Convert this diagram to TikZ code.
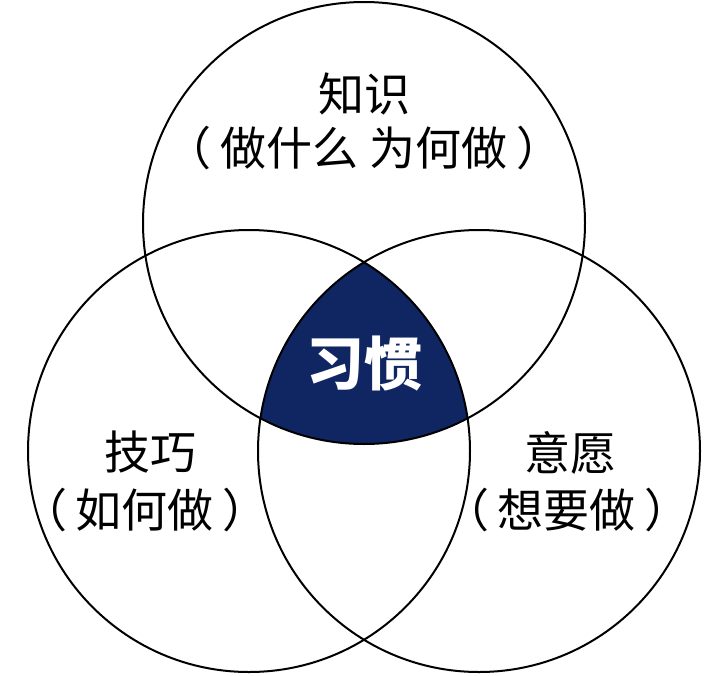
\documentclass[tikz,border=0pt]{standalone}
\usepackage{fontspec}
\usepackage{tikz, xcolor}
\newfontfamily\cjk{Noto Sans CJK SC}
\definecolor{habitblue}{RGB}{16,38,98}
\newcommand{\unitsize}{1pt}
\newcommand{\rad}{221}
\newcommand{\pgap}{\hspace{9pt}}

\begin{document}
\begin{tikzpicture}[x=\unitsize,y=-\unitsize]
\useasboundingbox (0,0) rectangle (720,675);
\tikzstyle{every node}=[inner sep=0pt,
                        align=center,
                        font=\cjk\fontsize{46}{56}\selectfont
                        ]
\tikzstyle{ring}=[draw=black, line width=2pt]
\coordinate (know) at (364,223);
\coordinate (skill) at (249,451);
\coordinate (will) at (479,451);
% centre where all three overlap
\begin{scope}
\clip (skill) circle[radius=\rad];
\clip (will) circle[radius=\rad];
\fill[habitblue] (know) circle[radius=\rad];
\end{scope}
\draw[ring] (know) circle[radius=\rad];
\draw[ring] (skill) circle[radius=\rad];
\draw[ring] (will) circle[radius=\rad];
\node (knowa) at (364,94) {知识};
\node (knowb) at (364,148) {（\pgap 做什么 为何做\pgap ）};
\node (skilla) at (150,452) {技巧};
\node (skillb) at (145,510) {（\pgap 如何做\pgap ）};
\node (willa) at (570,453) {意愿};
\node (willb) at (567,510) {（\pgap 想要做\pgap ）};
\node[text=white, font=\cjk\fontsize{58}{64}\selectfont\bfseries] (habit) at (364,364) {习惯};
\end{tikzpicture}
\end{document}
